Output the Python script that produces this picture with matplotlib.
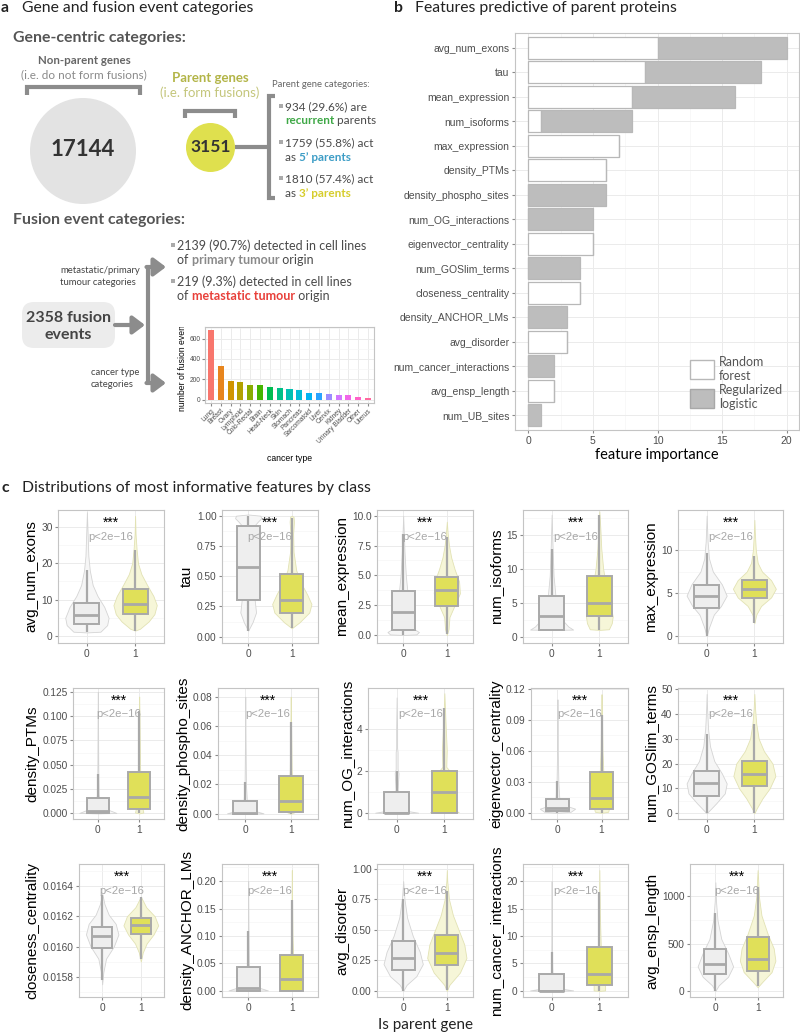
import numpy as np
import matplotlib
matplotlib.use('Agg')
import matplotlib.pyplot as plt
from matplotlib.patches import Rectangle, Circle, FancyBboxPatch, Patch
from matplotlib.ticker import AutoMinorLocator
from matplotlib.transforms import Bbox, TransformedBbox

plt.rcParams['font.family'] = ['Liberation Sans', 'DejaVu Sans']

# ---------------- данные ----------------
# панель a: типы рака
cancer_types = ['Lung', 'Breast', 'Ovary', 'Lymphoid', 'Colo-Rectal', 'Brain', 'Head-Neck', 'Skin',
                'Stomach', 'Pancreas', 'Sarcomatoid', 'Liver', 'Cervix', 'Kidney', 'Urinary Bladder',
                'Other', 'Uterus']
fusion_counts = [680, 330, 185, 168, 147, 142, 125, 110, 100, 90, 63, 60, 55, 49, 47, 28, 20]
cancer_ticks = [0, 200, 400, 600]

# панель b: важность признаков
features_b = ['avg_num_exons', 'tau', 'mean_expression', 'num_isoforms', 'max_expression',
              'density_PTMs', 'density_phospho_sites', 'num_OG_interactions', 'eigenvector_centrality',
              'num_GOSlim_terms', 'closeness_centrality', 'density_ANCHOR_LMs', 'avg_disorder',
              'num_cancer_interactions', 'avg_ensp_length', 'num_UB_sites']
rf_importance = [10, 9, 8, 1, 7, 6, 0, 0, 5, 0, 4, 0, 3, 0, 2, 0]
lr_importance = [10, 9, 8, 7, 0, 0, 6, 5, 0, 4, 0, 3, 0, 2, 0, 1]
importance_ticks = [0, 5, 10, 15, 20]

# панель c: распределения
features_c = ['avg_num_exons', 'tau', 'mean_expression', 'num_isoforms', 'max_expression',
              'density_PTMs', 'density_phospho_sites', 'num_OG_interactions', 'eigenvector_centrality',
              'num_GOSlim_terms', 'closeness_centrality', 'density_ANCHOR_LMs', 'avg_disorder',
              'num_cancer_interactions', 'avg_ensp_length']
class_labels = ['0', '1']

# нижний ус, q1, медиана, q3, верхний ус
box_non_parent = [
    [1, 3.2, 5.7, 9.2, 18.1],
    [0.05, 0.30, 0.575, 0.915, 1.0],
    [0.0, 0.45, 1.95, 3.7, 8.5],
    [1, 1, 3, 6, 13],
    [0, 3.3, 4.65, 5.95, 9.7],
    [0, 0, 0.003, 0.016, 0.040],
    [0, 0, 0.0003, 0.009, 0.022],
    [0, 0, 0, 1, 2],
    [0, 0.0015, 0.0045, 0.013, 0.031],
    [0, 7, 12, 17, 32],
    [0.01578, 0.01599, 0.01607, 0.01613, 0.01634],
    [0, 0, 0.006, 0.044, 0.11],
    [0, 0.175, 0.27, 0.41, 0.75],
    [0, 0, 0, 3, 7],
    [0, 175, 285, 440, 830],
]
box_parent = [
    [1.5, 6, 8.8, 13, 23.5],
    [0.07, 0.2, 0.3, 0.515, 0.98],
    [0.05, 2.4, 3.75, 4.85, 8.2],
    [1, 3, 5, 9, 18],
    [1.5, 4.4, 5.45, 6.5, 9.3],
    [0, 0.005, 0.017, 0.043, 0.105],
    [0, 0.001, 0.009, 0.026, 0.063],
    [0, 0, 1, 2, 5],
    [0, 0.004, 0.0145, 0.040, 0.095],
    [0, 11, 16, 21, 36],
    [0.01592, 0.01608, 0.01614, 0.01619, 0.01633],
    [0, 0, 0.021, 0.066, 0.165],
    [0.01, 0.21, 0.31, 0.455, 0.82],
    [0, 1, 3, 8, 18],
    [50, 210, 335, 570, 1100],
]

# контуры скрипок: (значение, полуширина)
violin_non_parent = [
    [[1, 0], [1.2, 0.28], [3, 0.42], [5, 0.45], [8, 0.36], [11, 0.22], [14, 0.12], [18, 0.06], [22, 0.03], [28, 0.015], [34, 0]],
    [[0.05, 0], [0.12, 0.1], [0.2, 0.18], [0.3, 0.15], [0.45, 0.06], [0.6, 0.04], [0.8, 0.05], [0.9, 0.1], [0.95, 0.22], [0.98, 0.3], [1.0, 0.28], [1.01, 0]],
    [[0, 0], [0.05, 0.3], [0.25, 0.36], [0.5, 0.25], [0.9, 0.12], [2, 0.12], [3.5, 0.1], [5, 0.06], [7, 0.03], [9, 0.01], [10, 0]],
    [[1, 0], [1.05, 0.45], [1.5, 0.35], [2.5, 0.22], [4, 0.14], [6, 0.08], [9, 0.04], [13, 0.02], [18, 0]],
    [[0, 0], [1, 0.05], [2.5, 0.15], [3.5, 0.3], [4.7, 0.42], [6, 0.32], [7.5, 0.13], [9, 0.05], [11, 0.02], [14, 0]],
    [[0, 0], [0.0005, 0.45], [0.003, 0.3], [0.008, 0.05], [0.02, 0.02], [0.05, 0.01], [0.1, 0.005], [0.125, 0]],
    [[0, 0], [0.0003, 0.4], [0.002, 0.2], [0.006, 0.04], [0.02, 0.015], [0.05, 0.006], [0.08, 0]],
    [[0, 0], [0.02, 0.45], [0.15, 0.1], [0.5, 0.02], [0.95, 0.06], [1.1, 0.02], [1.9, 0.04], [2.1, 0.02], [2.9, 0.02], [3.1, 0.01], [4, 0.01], [5.5, 0]],
    [[0, 0], [0.001, 0.3], [0.004, 0.4], [0.008, 0.12], [0.015, 0.04], [0.03, 0.02], [0.06, 0.008], [0.11, 0]],
    [[0, 0], [1, 0.05], [4, 0.2], [8, 0.38], [12, 0.42], [16, 0.32], [21, 0.16], [27, 0.07], [34, 0.03], [42, 0.01], [48, 0]],
    [[0.01575, 0], [0.01583, 0.03], [0.01592, 0.1], [0.01600, 0.3], [0.01608, 0.42], [0.01615, 0.35], [0.01621, 0.17], [0.01628, 0.06], [0.01635, 0]],
    [[0, 0], [0.001, 0.45], [0.006, 0.25], [0.015, 0.05], [0.05, 0.015], [0.12, 0.006], [0.2, 0]],
    [[0, 0], [0.05, 0.08], [0.12, 0.3], [0.22, 0.45], [0.32, 0.38], [0.45, 0.22], [0.6, 0.09], [0.75, 0.03], [0.9, 0]],
    [[0, 0], [0.1, 0.45], [0.6, 0.08], [2, 0.02], [5, 0.01], [10, 0.005], [20, 0]],
    [[0, 0], [60, 0.08], [150, 0.3], [260, 0.42], [400, 0.3], [550, 0.14], [750, 0.05], [950, 0.015], [1150, 0]],
]
violin_parent = [
    [[1.5, 0], [2, 0.1], [4, 0.28], [6, 0.4], [8.5, 0.45], [11, 0.38], [14, 0.25], [17, 0.13], [20, 0.06], [24, 0.03], [28, 0.01], [33, 0]],
    [[0.07, 0], [0.12, 0.18], [0.2, 0.4], [0.27, 0.45], [0.35, 0.35], [0.45, 0.2], [0.55, 0.1], [0.7, 0.04], [0.85, 0.03], [0.95, 0.05], [0.99, 0.04], [1.0, 0]],
    [[0, 0], [0.5, 0.04], [1.5, 0.06], [2.5, 0.18], [3.5, 0.3], [4.5, 0.28], [5.5, 0.18], [6.5, 0.1], [7.5, 0.05], [8.5, 0.02], [9.5, 0]],
    [[1, 0], [1.1, 0.2], [2, 0.26], [3, 0.28], [5, 0.22], [7, 0.15], [10, 0.08], [13, 0.04], [16, 0.02], [18.5, 0]],
    [[1.5, 0], [2.5, 0.04], [3.5, 0.14], [4.5, 0.35], [5.5, 0.45], [6.5, 0.35], [7.5, 0.16], [8.5, 0.07], [10, 0.03], [12, 0.01], [13.5, 0]],
    [[0, 0], [0.001, 0.1], [0.005, 0.08], [0.02, 0.04], [0.05, 0.02], [0.1, 0.008], [0.12, 0]],
    [[0, 0], [0.001, 0.08], [0.01, 0.05], [0.03, 0.02], [0.06, 0.008], [0.08, 0]],
    [[0, 0], [0.05, 0.3], [0.3, 0.05], [0.9, 0.2], [1.2, 0.05], [1.9, 0.15], [2.2, 0.04], [3, 0.05], [4, 0.03], [5.7, 0]],
    [[0, 0], [0.001, 0.15], [0.006, 0.18], [0.015, 0.1], [0.03, 0.05], [0.06, 0.02], [0.1, 0.008], [0.115, 0]],
    [[0, 0], [2, 0.05], [6, 0.17], [10, 0.32], [15, 0.44], [20, 0.38], [25, 0.2], [30, 0.09], [36, 0.04], [42, 0.015], [48, 0]],
    [[0.01590, 0], [0.01596, 0.05], [0.01602, 0.15], [0.01608, 0.33], [0.01614, 0.45], [0.01620, 0.36], [0.01626, 0.14], [0.01633, 0]],
    [[0, 0], [0.002, 0.12], [0.01, 0.08], [0.04, 0.04], [0.1, 0.015], [0.17, 0.005], [0.22, 0]],
    [[0, 0], [0.05, 0.06], [0.15, 0.3], [0.27, 0.45], [0.38, 0.4], [0.5, 0.27], [0.62, 0.14], [0.75, 0.05], [0.9, 0.01], [0.99, 0]],
    [[0, 0], [0.1, 0.12], [1, 0.12], [3, 0.07], [8, 0.03], [14, 0.01], [22, 0]],
    [[40, 0], [100, 0.12], [200, 0.33], [320, 0.42], [450, 0.38], [600, 0.24], [800, 0.09], [1000, 0.03], [1200, 0.01], [1280, 0]],
]

y_ticks_c = [[0, 10, 20, 30], [0, 0.25, 0.5, 0.75, 1], [0, 2.5, 5, 7.5, 10], [0, 5, 10, 15], [0, 5, 10],
             [0, 0.025, 0.05, 0.075, 0.1, 0.125], [0, 0.02, 0.04, 0.06, 0.08], [0, 2, 4],
             [0, 0.03, 0.06, 0.09, 0.12], [0, 10, 20, 30, 40, 50],
             [0.0158, 0.016, 0.0162, 0.0164], [0, 0.05, 0.1, 0.15, 0.2], [0, 0.25, 0.5, 0.75, 1],
             [0, 5, 10, 15, 20], [0, 500, 1000]]
y_decimals_c = [0, 2, 1, 0, 0, 3, 2, 0, 2, 0, 4, 2, 2, 0, 0]

# ---------------- оформление ----------------
W, H = 800, 1034
fig = plt.figure(figsize=(8, 10.34), dpi=100)
MY = ['Lato', 'DejaVu Sans']
GRID = '#ebebeb'


def px_axes(left, top, right, bottom):
    return fig.add_axes([left / W, 1 - bottom / H, (right - left) / W, (bottom - top) / H])


def gg_style(ax, size=7):
    for s in ax.spines.values():
        s.set_color('#c4c4c4')
        s.set_linewidth(0.8)
    ax.tick_params(axis='both', which='major', length=2.5, width=0.8, color='#8a8a8a',
                   labelcolor='#4d4d4d', labelsize=size, pad=1.5)
    ax.tick_params(axis='both', which='minor', length=0)
    ax.grid(True, which='major', color=GRID, lw=0.7)
    ax.grid(True, which='minor', color='#f5f5f5', lw=0.5)
    ax.set_axisbelow(True)


def gg_hue(n):
    M = np.array([[3.2404542, -1.5371385, -0.4985314],
                  [-0.9692660, 1.8760108, 0.0415560],
                  [0.0556434, -0.2040259, 1.0572252]])
    cols = []
    for h in np.linspace(15, 375, n + 1)[:-1]:
        L, C = 65.0, 100.0
        hr = np.radians(h)
        Y = ((L + 16) / 116) ** 3
        u = C * np.cos(hr) / (13 * L) + 0.1978398
        v = C * np.sin(hr) / (13 * L) + 0.4683363
        X = 9 * Y * u / (4 * v)
        Z = Y * (12 - 3 * u - 20 * v) / (4 * v)
        rgb = M @ np.array([X, Y, Z])
        rgb = np.where(rgb <= 0.0031308, 12.92 * rgb, 1.055 * np.abs(rgb) ** (1 / 2.4) - 0.055)
        cols.append(tuple(np.clip(rgb, 0, 1)))
    return cols


# общий слой для схемы (координаты в пикселях)
ov = fig.add_axes([0, 0, 1, 1])
ov.set_xlim(0, W)
ov.set_ylim(H, 0)
ov.axis('off')
ov.patch.set_alpha(0)
renderer = fig.canvas.get_renderer()


def advance(s, size, weight):
    t1 = ov.text(0, 0, s + '|', fontsize=size, fontweight=weight, family=MY)
    t2 = ov.text(0, 0, '|', fontsize=size, fontweight=weight, family=MY)
    w = t1.get_window_extent(renderer).width - t2.get_window_extent(renderer).width
    t1.remove()
    t2.remove()
    return w


def rich_line(x, y, parts, size=8.5):
    for s, color, weight in parts:
        ov.text(x, y, s, color=color, fontweight=weight, fontsize=size, family=MY, ha='left', va='baseline')
        x += advance(s, size, weight)


def bullet(x, y):
    ov.add_patch(Rectangle((x - 1.6, y - 1.6), 3.2, 3.2, color='#aaaaaa', lw=0))


GREY_T = '#4a4a4a'
LINE = '#8c8c8c'

# заголовки панелей
for lx, ly, letter, title in [(1, 12, 'a', 'Gene and fusion event categories'),
                              (394, 12, 'b', 'Features predictive of parent proteins'),
                              (1, 492, 'c', 'Distributions of most informative features by class')]:
    ov.text(lx, ly, letter, fontsize=11.3, fontweight='bold', family=MY, va='baseline', color='#222222')
    ov.text(lx + 21, ly, title, fontsize=11.3, family=MY, va='baseline', color='#222222')

# ---- панель a, гены ----
ov.text(13, 42, 'Gene-centric categories:', fontsize=11.4, fontweight='bold', family=MY, color='#555555', va='baseline')
ov.text(84, 64.5, 'Non-parent genes', fontsize=8.3, fontweight='bold', family=MY, color='#666666', ha='center', va='baseline')
ov.text(84, 78, '(i.e. do not form fusions)', fontsize=8.5, family=MY, color='#8a8a8a', ha='center', va='baseline')
ov.plot([27, 27, 140, 140], [95, 87, 87, 95], color=LINE, lw=3, solid_joinstyle='miter', solid_capstyle='butt')
ov.add_patch(Circle((83, 151), 53, color='#e3e3e3', lw=0))
ov.text(83, 156, '17144', fontsize=16, fontweight='bold', family=MY, color='#333333', ha='center', va='baseline')

ov.text(210, 82, 'Parent genes', fontsize=9.5, fontweight='bold', family=MY, color='#b3b548', ha='center', va='baseline')
ov.text(210, 97, '(i.e. form fusions)', fontsize=9.5, family=MY, color='#c4c67c', ha='center', va='baseline')
ov.plot([185, 185, 235, 235], [118, 111, 111, 118], color=LINE, lw=3, solid_joinstyle='miter', solid_capstyle='butt')
ov.add_patch(Circle((210.5, 147.5), 24.5, color='#dfe04e', lw=0))
ov.text(210.5, 152.5, '3151', fontsize=12.5, fontweight='bold', family=MY, color='#333333', ha='center', va='baseline')
ov.plot([235, 269], [147, 147], color=LINE, lw=3, solid_capstyle='butt')
ov.plot([275, 269, 269, 275], [96, 96, 198, 198], color=LINE, lw=3, solid_joinstyle='miter', solid_capstyle='butt')

ov.text(272, 87, 'Parent gene categories:', fontsize=6.8, family=MY, color='#666666', va='baseline')
bullet(281, 106)
rich_line(285, 110, [('934 (29.6%) are', GREY_T, 'normal')])
rich_line(285, 124.5, [('recurrent', '#3ea846', 'bold'), (' parents', GREY_T, 'normal')])
bullet(281, 142)
rich_line(285, 146, [('1759 (55.8%) act', GREY_T, 'normal')])
rich_line(285, 161, [('as ', GREY_T, 'normal'), ('5\u2019 parents', '#3d9dc6', 'bold')])
bullet(281, 178)
rich_line(285, 182, [('1810 (57.4%) act', GREY_T, 'normal')])
rich_line(285, 197, [('as ', GREY_T, 'normal'), ('3\u2019 parents', '#d6cd2c', 'bold')])

# ---- панель a, слияния ----
ov.text(13, 224, 'Fusion event categories:', fontsize=11.4, fontweight='bold', family=MY, color='#555555', va='baseline')
bullet(173, 245)
rich_line(177, 249.5, [('2139 (90.7%) detected in cell lines', GREY_T, 'normal')], size=9)
rich_line(177, 263.5, [('of ', GREY_T, 'normal'), ('primary tumour', '#8a8a8a', 'bold'), (' origin', GREY_T, 'normal')], size=9)
bullet(173, 281)
rich_line(177, 285.5, [('219 (9.3%) detected in cell lines', GREY_T, 'normal')], size=9)
rich_line(177, 300, [('of ', GREY_T, 'normal'), ('metastatic tumour', '#e8403a', 'bold'), (' origin', GREY_T, 'normal')], size=9)

ov.text(60, 273, 'metastatic/primary', fontsize=6.8, family=MY, color='#444444', va='baseline')
ov.text(60, 285, 'tumour categories', fontsize=6.8, family=MY, color='#444444', va='baseline')
ov.text(91, 375, 'cancer type', fontsize=6.8, family=MY, color='#444444', va='baseline')
ov.text(91, 387, 'categories', fontsize=6.8, family=MY, color='#444444', va='baseline')

ov.add_patch(FancyBboxPatch((28, 308), 81, 34, boxstyle='round,pad=6,rounding_size=12', color='#ececec', lw=0))
ov.text(68, 321.5, '2358 fusion', fontsize=11.5, fontweight='bold', family=MY, color='#444444', ha='center', va='baseline')
ov.text(68, 339, 'events', fontsize=11.5, fontweight='bold', family=MY, color='#444444', ha='center', va='baseline')

arrow_kw = dict(arrowstyle='-|>,head_length=0.6,head_width=0.45', lw=3, color=LINE, shrinkA=0, shrinkB=0,
                mutation_scale=12)
ov.annotate('', xy=(145, 325), xytext=(115, 325), arrowprops=arrow_kw)
ov.plot([148, 148], [267, 383], color=LINE, lw=3, solid_capstyle='butt')
ov.annotate('', xy=(166, 267), xytext=(146.5, 267), arrowprops=arrow_kw)
ov.annotate('', xy=(166, 383), xytext=(146.5, 383), arrowprops=arrow_kw)

# вставка: число слияний по типу рака
ax_in = px_axes(205, 327, 374, 403)
gg_style(ax_in, size=4.8)
xpos = np.arange(len(cancer_types))
ax_in.bar(xpos, fusion_counts, width=0.62, color=gg_hue(len(cancer_types)), zorder=3)
ax_in.set_xlim(-0.6, len(cancer_types) - 0.4)
ax_in.set_ylim(-34, 714)
ax_in.set_yticks(cancer_ticks)
ax_in.yaxis.set_minor_locator(AutoMinorLocator(2))
ax_in.set_xticks(xpos)
ax_in.set_xticklabels(cancer_types, rotation=45, ha='right', rotation_mode='anchor', fontsize=4.8)
ax_in.tick_params(length=2, pad=1)
ax_in.set_xlabel('cancer type', fontsize=6.2, labelpad=7)
yl = ax_in.set_ylabel('number of fusion events', fontsize=6.2, labelpad=2)
yl.set_clip_on(True)
yl.set_clip_box(TransformedBbox(Bbox.from_extents(0, 0, 1, 1 - 327 / H), fig.transFigure))

# ---- панель b ----
ax_b = px_axes(515, 33, 799, 430)
gg_style(ax_b, size=7.5)
yb = np.arange(len(features_b))
ax_b.barh(yb, rf_importance, height=0.9, color='white', edgecolor='#b8b8b8', lw=0.9, zorder=3)
ax_b.barh(yb, lr_importance, left=rf_importance, height=0.9, color='#bdbdbd', edgecolor='#b8b8b8', lw=0.9, zorder=3)
ax_b.set_ylim(len(features_b) - 1 + 0.61, -0.61)
ax_b.set_xlim(-1.03, 20.95)
ax_b.set_yticks(yb)
ax_b.set_yticklabels(features_b)
ax_b.set_xticks(importance_ticks)
ax_b.xaxis.set_minor_locator(AutoMinorLocator(2))
ax_b.set_xlabel('feature importance', fontsize=10.5, family=MY, labelpad=2)
ax_b.legend(handles=[Patch(facecolor='white', edgecolor='#b8b8b8', lw=1),
                     Patch(facecolor='#bdbdbd', edgecolor='#a8a8a8', lw=1)],
            labels=['Random\nforest', 'Regularized\nlogistic'],
            loc='lower left', bbox_to_anchor=(0.616, 0.05), frameon=False,
            prop={'family': MY, 'size': 9}, handlelength=1.9, handleheight=2.0,
            handletextpad=0.4, labelspacing=0.2, borderpad=0, borderaxespad=0, labelcolor='#555555')

# ---- панель c ----
panel_boxes = [
    (58, 510, 164, 643), (222, 510, 318, 643), (377, 510, 473, 643), (523, 510, 628, 643), (678, 510, 783, 643),
    (73, 688, 164, 819), (218, 688, 318, 819), (368, 688, 473, 819), (531, 688, 628, 819), (678, 688, 783, 819),
    (79, 864, 164, 997), (222, 864, 318, 997), (377, 864, 473, 997), (523, 864, 628, 997), (690, 864, 783, 997),
]
panel_ylims = [(-1.9, 34.6), (-0.052, 1.047), (-0.67, 10.48), (-0.93, 18.7), (-0.8, 14.65),
               (-0.0057, 0.1288), (-0.0036, 0.086), (-0.28, 5.95), (-0.006, 0.121), (-2.3, 50.4),
               (0.015666, 0.016546), (-0.011, 0.231), (-0.05, 1.04), (-1.1, 23.1), (-64, 1344)]
vio_style = [('#f6f6f6', '#d4d4d4', '#eeeeee'), ('#f6f6d8', '#e2e2b4', '#e0e059')]

for i, name in enumerate(features_c):
    ax = px_axes(*panel_boxes[i])
    gg_style(ax, size=7.3)
    for pos, stats, vio, (vfill, vedge, bfill) in zip([0, 1], [box_non_parent[i], box_parent[i]],
                                                      [violin_non_parent[i], violin_parent[i]], vio_style):
        vy = np.array([p[0] for p in vio])
        vw = np.array([p[1] for p in vio])
        ax.fill_betweenx(vy, pos - vw, pos + vw, facecolor=vfill, edgecolor=vedge, lw=0.6, zorder=2)
        low, q1, med, q3, high = stats
        ax.plot([pos, pos], [low, q1], color='#a9a9a9', lw=1.6, zorder=3, solid_capstyle='butt')
        ax.plot([pos, pos], [q3, high], color='#a9a9a9', lw=1.6, zorder=3, solid_capstyle='butt')
        ax.add_patch(Rectangle((pos - 0.26, q1), 0.52, q3 - q1, facecolor=bfill, edgecolor='#a9a9a9',
                               lw=1.4, zorder=4))
        ax.plot([pos - 0.26, pos + 0.26], [med, med], color='#a9a9a9', lw=2.0, zorder=5, solid_capstyle='butt')
    ax.set_xlim(-0.6, 1.6)
    ax.set_ylim(*panel_ylims[i])
    ax.set_xticks([0, 1])
    ax.set_xticklabels(class_labels)
    ax.set_yticks(y_ticks_c[i])
    ax.set_yticklabels([f'{t:.{y_decimals_c[i]}f}' for t in y_ticks_c[i]])
    ax.yaxis.set_minor_locator(AutoMinorLocator(2))
    ax.grid(False, axis='x', which='minor')
    ax.set_ylabel(name, fontsize=11, labelpad=2)
    ax.text(0.5, 0.905, '***', transform=ax.transAxes, ha='center', va='center', fontsize=10, color='black', zorder=6)
    ax.text(0.5, 0.798, 'p<2e\u221216', transform=ax.transAxes, ha='center', va='center', fontsize=8.2,
            color='#a8a8a8', zorder=6)

ov.text(426, 1029, 'Is parent gene', fontsize=11, family=MY, color='#222222', ha='center', va='baseline')

fig.savefig('out.png', dpi=100)
